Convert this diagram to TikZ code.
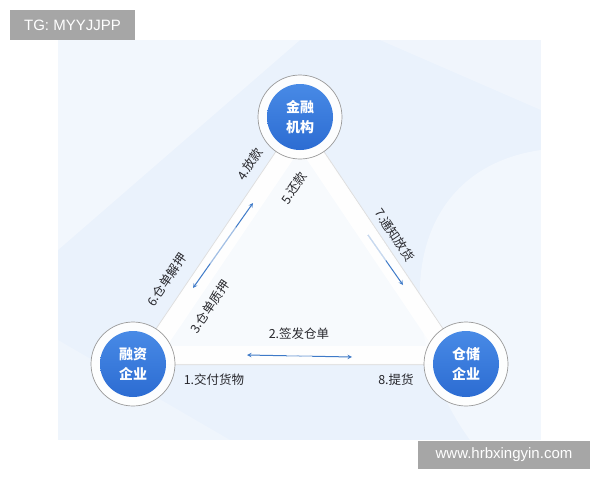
\documentclass[tikz,border=0pt]{standalone}
\usepackage{fontspec}
\setmainfont{Liberation Sans}
\newfontfamily\cjk{Noto Sans CJK SC}
\definecolor{panel}{RGB}{234,242,252}
\definecolor{hubtop}{RGB}{72,138,230}
\definecolor{hubbot}{RGB}{44,108,210}
\definecolor{arrblue}{RGB}{62,122,200}
\definecolor{tagbg}{RGB}{166,166,166}
\definecolor{txt}{RGB}{40,40,45}
\tikzset{ring/.style = {circle, minimum size=84pt, inner sep=0pt, draw=gray!80, line width=0.7pt, fill=white, fill opacity=0.9},
    hub/.style = {circle, minimum size=66pt, inner sep=0pt, top color=hubtop, bottom color=hubbot,
                  text=white, align=center, font=\cjk\bfseries\fontsize{14}{20}\selectfont},
    lbl/.style = {text=txt, inner sep=0pt, font=\cjk\fontsize{12.5}{14}\selectfont},
    arr/.style = {draw=arrblue, line width=1pt},
    tagbox/.style = {fill=tagbg, text=white, inner sep=0pt, font=\fontsize{15}{18}\selectfont}}

\begin{document}
\begin{tikzpicture}[x=1pt, y=-1pt, >=stealth]
        \useasboundingbox (0,0) rectangle (600,480);
        % background panel
        \fill[panel] (58,40) rectangle (541,440);
        \fill[white, opacity=0.4] (58,40) -- (300,40) -- (58,250) -- cycle;
        \fill[white, opacity=0.25] (58,440) -- (58,340) -- (230,440) -- cycle;
        \fill[white, opacity=0.4] (541,150) .. controls (400,170) and (390,330) .. (470,440) -- (541,440) -- cycle;
        \fill[white, opacity=0.3] (380,40) -- (541,40) -- (541,110) -- cycle;

        \coordinate (ct) at (300,117);
        \coordinate (cl) at (133,364);
        \coordinate (cr) at (466,364);

        % triangle band
        \draw[gray!25, line width=2pt, line join=round] (ct) -- (cl) -- (cr) -- cycle;
        \begin{scope}
            \clip (ct) -- (cl) -- (cr) -- cycle;
            \fill[white, opacity=0.65] (ct) -- (cl) -- (cr) -- cycle;
            \draw[white, line width=36pt, line join=round, opacity=0.9] (ct) -- (cl) -- (cr) -- cycle;
        \end{scope}

        \foreach \n/\c/\t in {fin/ct/{金融\\机构}, firm/cl/{融资\\企业}, store/cr/{仓储\\企业}} {
            \node[ring] (\n r) at (\c) {};
            \node[hub] (\n) at (\c) {\t};
        }

        % arrows
        \coordinate (a1) at (193,288);
        \coordinate (a2) at (253,203);
        \coordinate (b1) at (368,235);
        \coordinate (b2) at (403,285);
        \coordinate (c1) at (247,355);
        \coordinate (c2) at (352,357);
        \draw[arr, <->] (a1) -- (a2);
        \draw[arr, ->] (b1) -- (b2);
        \draw[arr, <->] (c1) -- (c2);
        \draw[white, opacity=0.5, line width=1.4pt, shorten <=30pt, shorten >=30pt] (a1) -- (a2);
        \draw[white, opacity=0.7, line width=1.4pt, shorten >=30pt] (b1) -- (b2);
        \draw[white, opacity=0.5, line width=1.4pt, shorten <=40pt, shorten >=40pt] (c1) -- (c2);

        % labels
        \foreach \n/\x/\y/\r/\t in {l4/250/164/56/4.放款, l5/294/188/56/5.还款,
                l6/167/280/56/6.仓单解押, l3/210/307/56/3.仓单质押,
                l7/395/235/-56/7.通知放货, l2/299/334/0/2.签发仓单,
                l1/214/380/0/1.交付货物, l8/396/380/0/8.提货}
            \node[lbl, rotate=\r] (\n) at (\x,\y) {\t};

        \node[tagbox, minimum width=125pt, minimum height=30pt] (tg) at (72.5,25) {TG: MYYJJPP};
        \node[tagbox, minimum width=172pt, minimum height=28pt] (web) at (504,454.5) {www.hrbxingyin.com};
    \end{tikzpicture}
\end{document}
